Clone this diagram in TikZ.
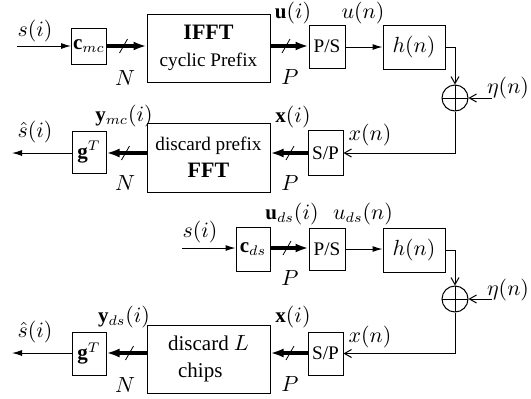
\documentclass[tikz,border=0pt]{standalone}
\usepackage{fontspec}
\setmainfont{Liberation Serif}
\usetikzlibrary{arrows.meta}
\begin{document}
\begin{tikzpicture}[x=0.5pt,y=-0.5pt,
  font=\fontsize{10.5}{12}\selectfont,
  blk/.style={draw,line width=0.5pt,inner sep=0pt,align=center},
  boxtext/.style={font=\fontsize{9.6}{11}\selectfont},
  thinarr/.style={line width=0.5pt,-{Latex[length=5pt,width=3pt]}},
  openarr/.style={line width=0.5pt,-{Straight Barb[length=3.5pt,width=4pt]}},
  thickarr/.style={line width=2.2pt,-{Latex[length=6.5pt,width=4.5pt]}},
  slashmark/.style={line width=0.4pt},
  lbl/.style={inner sep=0pt},
  sumnode/.style={circle,draw,line width=0.5pt,minimum size=13pt,inner sep=0pt,
    path picture={\draw[line width=0.5pt] (path picture bounding box.north) -- (path picture bounding box.south)
      (path picture bounding box.west) -- (path picture bounding box.east);}}
]
\useasboundingbox (0,0) rectangle (531,398);

% ---------- top section: multicarrier ----------
\node[blk,minimum width=17.5pt,minimum height=18pt] (cmc) at (89,46) {$\mathbf{c}_{mc}$};
\node[blk,boxtext,minimum width=61.5pt,minimum height=34pt] (ifft) at (208.5,48) {{\fontsize{11}{12}\selectfont\textbf{IFFT}}\\[2.5pt]cyclic Prefix};
\node[blk,boxtext,minimum width=18pt,minimum height=21.5pt] (ps1) at (327,46.5) {P/S};
\node[blk,minimum width=31pt,minimum height=22pt] (h1) at (414,47) {$h(n)$};
\node[sumnode] (sum1) at (455,98) {};
\node[blk,boxtext,minimum width=17.5pt,minimum height=22.5pt] (sp1) at (325.5,153) {S/P};
\node[blk,boxtext,minimum width=61.5pt,minimum height=34.5pt] (fft) at (208.5,157.5) {discard prefix\\[2.5pt]{\fontsize{11}{12}\selectfont\textbf{FFT}}};
\node[blk,minimum width=17pt,minimum height=21pt] (g1) at (89,152) {$\mathbf{g}^T$};

\coordinate (sin1) at (17,46);
\coordinate (sout1) at (12,153);
\coordinate (eta1) at (492,98);

\draw[thinarr] (sin1) -- (sin1 -| cmc.west);
\draw[thickarr] (cmc.east |- 0,46) -- (ifft.west |- 0,46);
\draw[thickarr] (ifft.east |- 0,46) -- (ps1.west |- 0,46);
\draw[thinarr] (ps1.east |- 0,47) -- (h1.west |- 0,47);
\draw[openarr] (h1.east) -| (sum1.north);
\draw[openarr] (eta1) -- (sum1.east);
\draw[openarr] (sum1.south) |- (sp1.east);
\draw[thickarr] (sp1.west |- 0,153) -- (fft.east |- 0,153);
\draw[thickarr] (fft.west |- 0,153) -- (g1.east |- 0,153);
\draw[thinarr] (g1.west |- 0,153) -- (sout1);

\draw[slashmark] (119.5,53) -- (127.5,39);
\draw[slashmark] (282,53) -- (290,39);
\draw[slashmark] (286,160) -- (294,146);
\draw[slashmark] (121.5,160) -- (129.5,146);

\node[lbl] (ls1) at (35,31) {$s(i)$};
\node[lbl] (lN1) at (125,78) {$N$};
\node[lbl] (lui) at (293,13) {$\mathbf{u}(i)$};
\node[lbl] (lP1) at (290,77) {$P$};
\node[lbl] (lun) at (363,13) {$u(n)$};
\node[lbl] (leta1) at (508,88) {$\eta(n)$};
\node[lbl] (lxn1) at (370,135) {$x(n)$};
\node[lbl] (lxi1) at (293,117) {$\mathbf{x}(i)$};
\node[lbl] (lP2) at (290,183) {$P$};
\node[lbl] (lymc) at (124,116) {$\mathbf{y}_{mc}(i)$};
\node[lbl] (lN2) at (125,183) {$N$};
\node[lbl] (lsh1) at (35,132) {$\hat{s}(i)$};

% ---------- bottom section: direct sequence ----------
\node[blk,minimum width=17pt,minimum height=22pt] (cds) at (253,249) {$\mathbf{c}_{ds}$};
\node[blk,boxtext,minimum width=18pt,minimum height=21pt] (ps2) at (327,249) {P/S};
\node[blk,minimum width=31pt,minimum height=22pt] (h2) at (414,250) {$h(n)$};
\node[sumnode] (sum2) at (455,299) {};
\node[blk,boxtext,minimum width=17.5pt,minimum height=21.5pt] (sp2) at (325.5,353.5) {S/P};
\node[blk,minimum width=61.5pt,minimum height=34pt,align=left] (dch) at (208.5,359) {discard $L$\\[1.5pt]\hspace{5pt}chips};
\node[blk,minimum width=17pt,minimum height=21.5pt] (g2) at (89,353.5) {$\mathbf{g}^T$};

\coordinate (sin2) at (182,248);
\coordinate (sout2) at (12,353);
\coordinate (eta2) at (492,299);

\draw[thinarr] (sin2) -- (sin2 -| cds.west);
\draw[thickarr] (cds.east |- 0,248) -- (ps2.west |- 0,248);
\draw[thinarr] (ps2.east |- 0,249) -- (h2.west |- 0,249);
\draw[openarr] (h2.east) -| (sum2.north);
\draw[openarr] (eta2) -- (sum2.east);
\draw[openarr] (sum2.south) |- (sp2.east);
\draw[thickarr] (sp2.west |- 0,353) -- (dch.east |- 0,353);
\draw[thickarr] (dch.west |- 0,353) -- (g2.east |- 0,353);
\draw[thinarr] (g2.west |- 0,353) -- (sout2);

\draw[slashmark] (283,255) -- (291,241);
\draw[slashmark] (286,360) -- (294,346);
\draw[slashmark] (125.5,360) -- (133.5,346);

\node[lbl] (ls2) at (200,232) {$s(i)$};
\node[lbl] (luds) at (292,214) {$\mathbf{u}_{ds}(i)$};
\node[lbl] (lP3) at (290,278) {$P$};
\node[lbl] (ludsn) at (363,214) {$u_{ds}(n)$};
\node[lbl] (leta2) at (508,290) {$\eta(n)$};
\node[lbl] (lxn2) at (370,337) {$x(n)$};
\node[lbl] (lxi2) at (293,317) {$\mathbf{x}(i)$};
\node[lbl] (lP4) at (290,384) {$P$};
\node[lbl] (lyds) at (124,317) {$\mathbf{y}_{ds}(i)$};
\node[lbl] (lN3) at (125,385) {$N$};
\node[lbl] (lsh2) at (35,332) {$\hat{s}(i)$};
\end{tikzpicture}
\end{document}
